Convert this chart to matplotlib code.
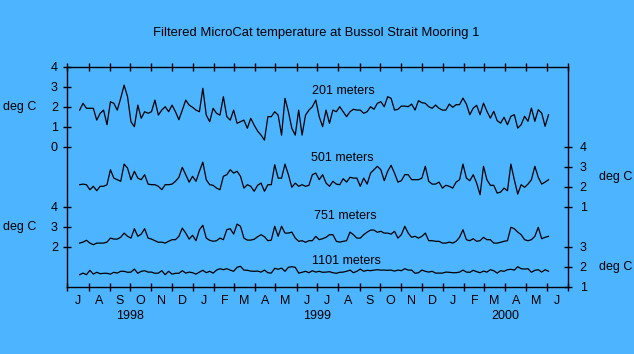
import numpy as np
import matplotlib
matplotlib.use("Agg")
import matplotlib.pyplot as plt
import matplotlib.dates as mdates
from matplotlib.ticker import FuncFormatter, NullFormatter

# filtered temperature (deg C), one value every 5 days from 1998-07-19
start = np.datetime64('1998-07-19')
step_days = 5

t201 = [1.83, 2.17, 1.92, 1.92, 1.92, 1.33, 1.67, 1.83, 1.1, 2.25,
        2.17, 1.83, 2.42, 3.08, 2.5, 1.25, 1.0, 2.08, 1.42, 1.75,
        1.67, 1.75, 2.33, 1.58, 1.83, 2.0, 1.75, 2.08, 1.75, 1.35,
        1.83, 2.33, 2.08, 1.97, 1.83, 1.75, 2.92,
        1.58, 1.25, 1.92, 1.67, 1.58, 2.5, 1.5, 1.33, 1.83, 1.17,
        1.25, 1.33, 0.92, 1.42, 1.08, 0.78, 0.58, 0.33, 1.5, 1.5,
        1.75, 1.58, 0.58, 2.42, 1.75, 0.92, 0.58, 1.83, 0.58, 1.58,
        1.83, 2.0, 2.33, 1.5, 1.0, 1.83, 1.17, 1.83, 1.75, 2.0,
        1.75, 1.5, 1.75, 1.87, 1.83, 1.83, 1.67, 1.75, 2.0, 1.87,
        2.17, 2.25, 2.0, 2.5, 2.42, 1.83, 1.87, 2.03, 2.03, 2.0,
        2.13, 1.83, 2.3, 2.2, 2.17, 2.0, 1.92, 2.08, 1.92, 1.83,
        1.83, 2.13,
        1.97, 2.1, 2.1, 2.43, 2.13, 1.6, 1.93, 2.07, 1.6, 2.18,
        1.77, 1.43, 1.77, 1.3, 1.18, 1.47, 1.1, 1.52, 1.6, 0.93,
        1.1, 1.52, 1.27, 1.93, 1.27, 1.85, 1.68, 1.02, 1.6]

t501 = [2.1, 2.13, 2.1, 1.85, 2.02, 1.8, 2.02, 2.02, 2.1, 2.85,
        2.43, 2.35, 2.27, 3.13, 2.93, 2.35, 2.77, 2.43, 2.35, 2.6,
        2.13, 2.1, 2.1, 2.02, 1.85, 2.1, 2.1, 2.13, 2.27, 2.47,
        2.97, 2.6, 2.23, 2.52, 2.27,
        2.77, 3.23, 2.35, 2.1, 2.07, 1.93, 1.85, 2.52, 2.6, 2.85,
        2.68, 2.77, 2.52, 1.93, 2.1, 2.02, 1.77, 2.07, 2.18, 1.77,
        2.1, 2.1, 3.1, 2.43, 2.43, 3.13, 2.6, 1.97, 2.18, 2.02,
        2.1, 2.02, 2.07, 2.6, 2.68,
        2.35, 2.6, 2.18, 2.02, 2.27, 2.13, 2.1, 2.4, 2.23, 2.47,
        2.43, 2.43, 2.02, 2.43, 2.13, 2.68, 2.85, 3.02, 2.85, 2.3,
        2.77, 3.07, 2.68, 2.23, 2.3, 2.6, 2.6, 2.35, 2.35, 2.35,
        2.43, 3.02, 2.27, 2.13, 2.13,
        2.23, 1.93, 2.07, 2.02, 1.93, 2.23, 2.35, 3.13, 2.43, 2.3,
        2.6, 2.18, 1.6, 3.02, 2.35, 2.07, 2.07, 1.68, 1.73, 1.93,
        1.8, 3.13, 2.35, 1.63, 2.1, 1.97, 2.13, 2.35, 3.02, 2.47,
        2.13, 2.23, 2.35]

t751 = [2.18, 2.23, 2.32, 2.18, 2.1, 2.18, 2.18, 2.18, 2.23, 2.43,
        2.38, 2.38, 2.47, 2.68, 2.52, 2.43, 2.9, 2.52, 2.63, 2.9,
        2.43, 2.38, 2.3, 2.22, 2.23, 2.18, 2.27, 2.35, 2.35, 2.52,
        2.93, 2.68, 2.38, 2.57, 2.3,
        2.85, 3.07, 2.43, 2.32, 2.27, 2.3, 2.43, 2.35, 2.85, 2.9,
        2.63, 3.13, 3.02, 2.43, 2.33, 2.33, 2.37, 2.5, 2.6, 2.5,
        2.3, 2.33, 3.02, 2.52, 3.02, 2.68, 2.68, 2.73, 2.43, 2.27,
        2.3, 2.22, 2.3, 2.3, 2.52,
        2.35, 2.4, 2.47, 2.6, 2.6, 2.27, 2.23, 2.27, 2.3, 2.73,
        2.6, 2.43, 2.43, 2.6, 2.73, 2.83, 2.83, 2.72, 2.77, 2.68,
        2.68, 2.63, 2.77, 2.43, 2.6, 3.02, 2.68, 2.47, 2.52, 2.43,
        2.52, 2.68, 2.3, 2.3, 2.27,
        2.27, 2.18, 2.18, 2.23, 2.18, 2.27, 2.47, 2.85, 2.35, 2.3,
        2.4, 2.27, 2.3, 2.47, 2.35, 2.35, 2.18, 2.18, 2.22, 2.27,
        2.3, 2.97, 2.9, 2.73, 2.6, 2.35, 2.3, 2.35, 2.52, 2.97,
        2.4, 2.47, 2.52]

t1101 = [1.6, 1.68, 1.6, 1.82, 1.63, 1.72, 1.65, 1.67, 1.67, 1.63,
         1.72, 1.68, 1.77, 1.77, 1.72, 1.73, 1.88, 1.67, 1.77, 1.8,
         1.73, 1.73, 1.67, 1.68, 1.8, 1.6, 1.77, 1.63, 1.67, 1.67,
         1.8, 1.68, 1.73, 1.7, 1.63,
         1.73, 1.82, 1.7, 1.77, 1.68, 1.83, 1.9, 1.85, 1.9, 1.83,
         1.77, 1.97, 2.02, 1.83, 1.82, 1.78, 1.77, 1.78, 1.73, 1.83,
         1.7, 1.68, 1.92, 1.87, 1.93, 1.77, 1.97, 2.0, 1.97, 1.68,
         1.72, 1.77, 1.7, 1.8, 1.73,
         1.77, 1.72, 1.73, 1.75, 1.7, 1.67, 1.72, 1.73, 1.77, 1.83,
         1.7, 1.77, 1.88, 1.77, 1.82, 1.8, 1.83, 1.85, 1.83, 1.83,
         1.82, 1.83, 1.78, 1.83, 1.8, 1.9, 1.83, 1.83, 1.67, 1.7,
         1.83, 1.77, 1.73, 1.77, 1.68,
         1.68, 1.68, 1.73, 1.72, 1.7, 1.7, 1.73, 1.83, 1.73, 1.72,
         1.82, 1.75, 1.7, 1.78, 1.73, 1.85, 1.8, 1.68, 1.8, 1.77,
         1.85, 1.87, 1.83, 2.0, 1.9, 1.88, 1.9, 1.72, 1.82, 1.85,
         1.73, 1.85, 1.77]

dates = start + np.arange(len(t201)) * np.timedelta64(step_days, 'D')

bg = '#4DB4FF'
plt.rcParams['font.family'] = ['Liberation Sans', 'DejaVu Sans']
plt.rcParams['font.size'] = 9

W, H = 634, 354
fig = plt.figure(figsize=(W / 100, H / 100), dpi=100, facecolor=bg)
rect = [67.3 / W, 1 - 286.7 / H, 500.4 / W, 220 / H]

ax = fig.add_axes(rect)
ax.set_facecolor(bg)
ax501 = fig.add_axes(rect, sharex=ax)
ax751 = fig.add_axes(rect, sharex=ax)
ax1101 = fig.add_axes(rect, sharex=ax)

line_kw = dict(color='black', lw=0.9)
ax.plot(dates, t201, **line_kw)
ax501.plot(dates, t501, **line_kw)
ax751.plot(dates, t751, **line_kw)
ax1101.plot(dates, t1101, **line_kw)

ax.set_ylim(-7, 4)
ax501.set_ylim(-3, 8)
ax751.set_ylim(0, 11)
ax1101.set_ylim(1, 12)

ax.set_xlim(np.datetime64('1998-07-01'), np.datetime64('2000-07-01'))

tick_kw = dict(direction='inout', length=6, width=1, color='black', labelsize=9)

for a in (ax, ax501, ax751, ax1101):
    for s in a.spines.values():
        s.set_linewidth(1.0)
    if a is not ax:
        a.patch.set_visible(False)
        for s in a.spines.values():
            s.set_visible(False)
        a.tick_params(axis='x', which='both', bottom=False, labelbottom=False)

ax.set_yticks([0, 1, 2, 3, 4])
ax.tick_params(axis='y', left=True, right=False, pad=3.8, **tick_kw)
ax751.set_yticks([2, 3, 4])
ax751.tick_params(axis='y', left=True, right=False, pad=3.8, **tick_kw)

ax501.yaxis.tick_right()
ax501.set_yticks([1, 2, 3, 4])
ax501.tick_params(axis='y', left=False, right=True, pad=5.6, **tick_kw)
ax1101.yaxis.tick_right()
ax1101.set_yticks([1, 2, 3])
ax1101.tick_params(axis='y', left=False, right=True, pad=5.6, **tick_kw)

# months: ticks at month starts, letters centred in each month
ax.xaxis.set_major_locator(mdates.MonthLocator())
ax.xaxis.set_major_formatter(NullFormatter())
ax.xaxis.set_minor_locator(mdates.MonthLocator(bymonthday=16))
ax.xaxis.set_minor_formatter(
    FuncFormatter(lambda v, p: mdates.num2date(v).strftime('%b')[0]))
ax.tick_params(axis='x', which='major', top=True, **tick_kw)
ax.tick_params(axis='x', which='minor', length=0, pad=5.8, labelsize=9)

years = ['1998', '1999', '2000']
year_pos = [np.datetime64('1998-10-01'), np.datetime64('1999-07-01'),
            np.datetime64('2000-04-01')]
for d, y in zip(year_pos, years):
    ax.text(d, -29.3 / 220, y, transform=ax.get_xaxis_transform(),
            ha='center', va='center', fontsize=9)


def ftext(x, y, s, size=9, **kw):
    fig.text(x / W, 1 - y / H, s, va='center', fontsize=size, **kw)


ftext(316, 33, 'Filtered MicroCat temperature at Bussol Strait Mooring 1',
      size=9.4, ha='center')
ftext(19.5, 107, 'deg C', ha='center')
ftext(19.5, 227, 'deg C', ha='center')
ftext(615.5, 177, 'deg C', ha='center')
ftext(615.5, 267, 'deg C', ha='center')
ftext(311.5, 90.7, '201 meters', ha='left')
ftext(311, 158, '501 meters', ha='left')
ftext(314.5, 216.3, '751 meters', ha='left')
ftext(312, 261.3, '1101 meters', ha='left')

fig.savefig('out.png', dpi=100, facecolor=bg)
